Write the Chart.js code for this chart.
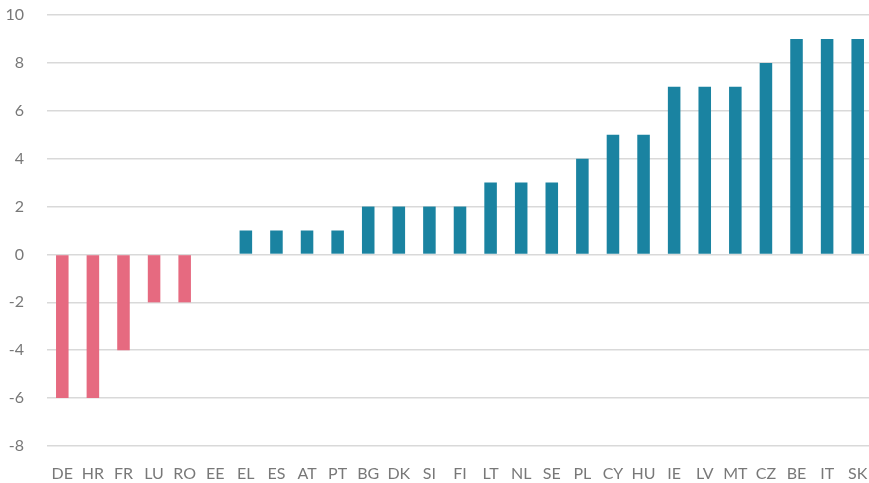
<!DOCTYPE html>
<html>
<head>
<meta charset="utf-8">
<script src="https://cdn.jsdelivr.net/npm/chart.js@4"></script>
<style>
  html, body { margin: 0; padding: 0; background: #fff; overflow: hidden; }
  #wrap { width: 873px; height: 483px; }
</style>
</head>
<body>
<div id="wrap"><canvas id="chart"></canvas></div>
<script>
// countries, ordered as in the figure
const countries = ['DE','HR','FR','LU','RO','EE','EL','ES','AT','PT','BG','DK','SI','FI','LT','NL','SE','PL','CY','HU','IE','LV','MT','CZ','BE','IT','SK'];
const values = [-6,-6,-4,-2,-2,0,1,1,1,1,2,2,2,2,3,3,3,4,5,5,7,7,7,8,9,9,9];
const yTicks = [-8,-6,-4,-2,0,2,4,6,8,10];

const pink = '#E66A80';
const teal = '#1A83A1';
const barColors = values.map(v => v < 0 ? pink : teal);

const ctx = document.getElementById('chart').getContext('2d');
new Chart(ctx, {
  type: 'bar',
  data: {
    labels: countries,
    datasets: [{ data: values, backgroundColor: barColors, barPercentage: 0.41, categoryPercentage: 1 }]
  },
  options: {
    responsive: true,
    maintainAspectRatio: false,
    animation: false,
    layout: { padding: { top: 15, right: 0, bottom: 0, left: 0 } },
    plugins: { legend: { display: false }, tooltip: { enabled: false } },
    scales: {
      x: {
        // invisible tick marks used as label spacing
        grid: { color: 'rgba(0,0,0,0)', drawOnChartArea: false, drawTicks: true, tickLength: 18 },
        border: { display: false },
        ticks: { color: '#787878', font: { family: 'Lato', size: 16 }, padding: 0, maxRotation: 0, autoSkip: false },
        afterFit: s => { s.height = 37; }
      },
      y: {
        min: -8, max: 10,
        grid: { color: '#d9d9d9', lineWidth: 1.5, drawTicks: true, tickLength: 23, tickColor: 'rgba(0,0,0,0)' },
        border: { display: false },
        afterBuildTicks: s => { s.ticks = yTicks.map(v => ({ value: v })); },
        ticks: { color: '#787878', font: { family: 'Lato', size: 16 }, padding: 0 },
        afterFit: s => { s.width = 47; }
      }
    }
  }
});
</script>
</body>
</html>
